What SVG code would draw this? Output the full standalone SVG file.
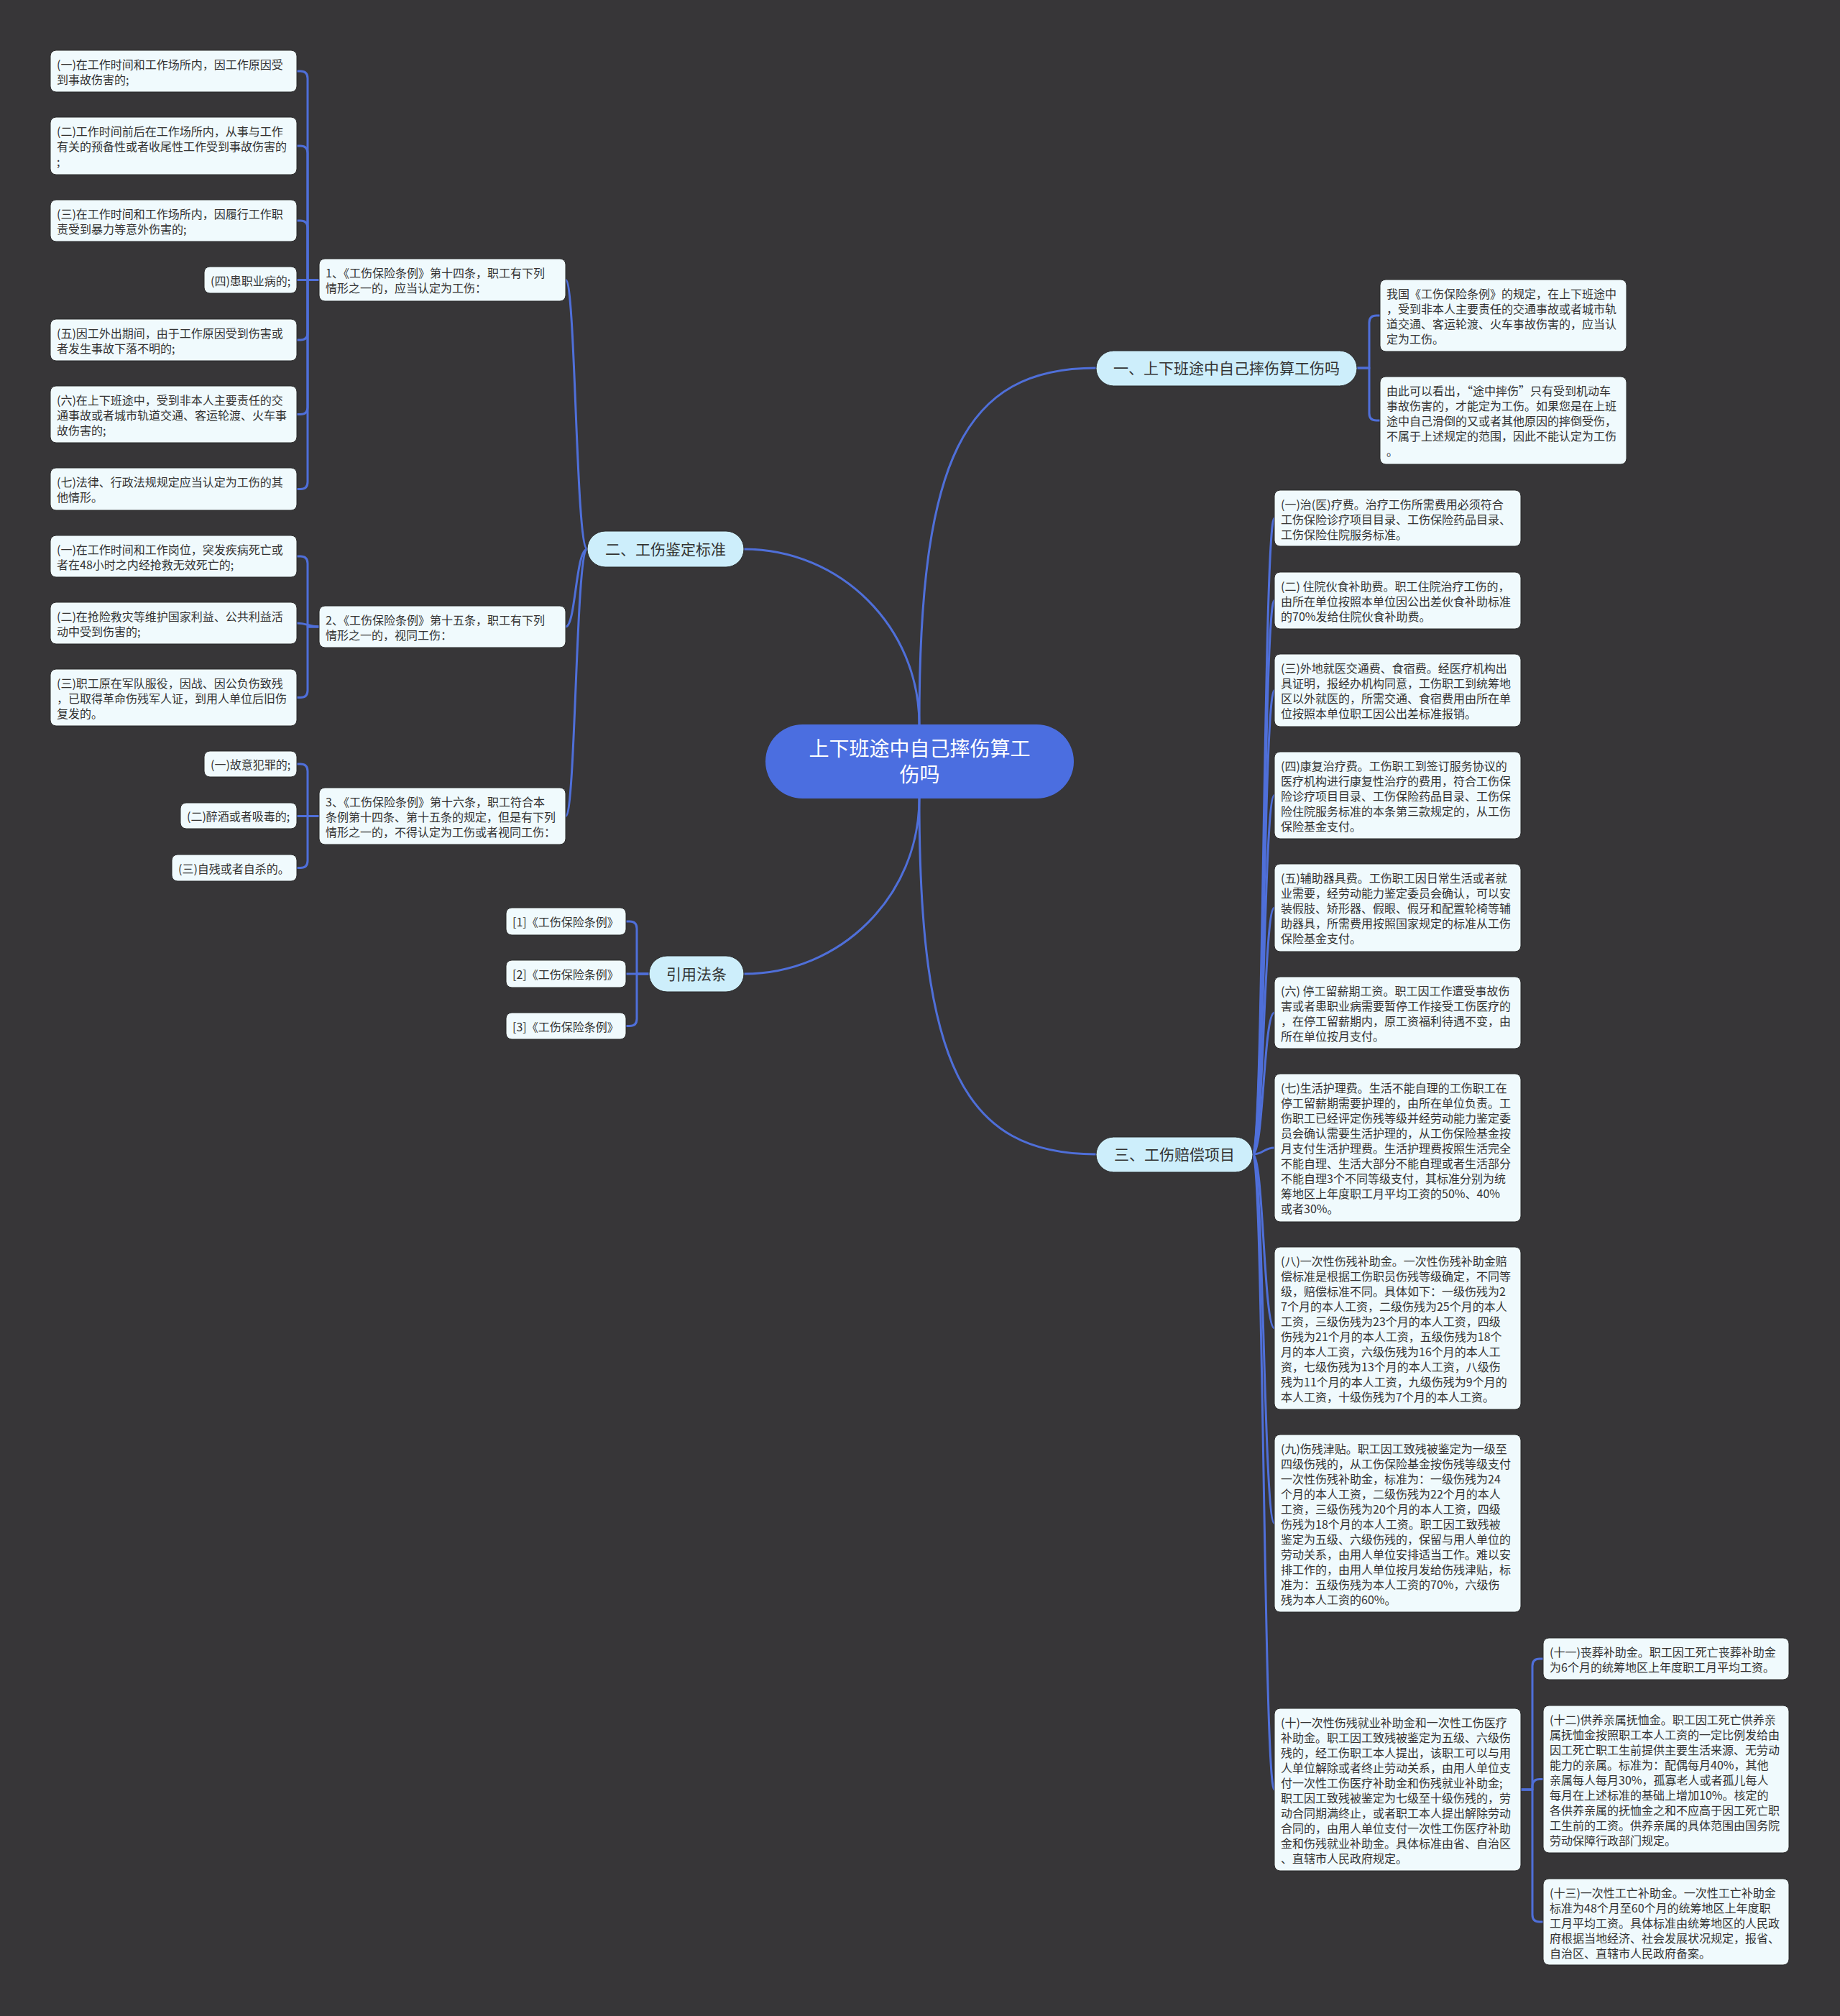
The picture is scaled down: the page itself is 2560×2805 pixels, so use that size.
<svg xmlns="http://www.w3.org/2000/svg" width="2560" height="2805" viewBox="0 0 2560 2805">
<style>
.bg{fill:#373638}
.leaf rect{fill:#f0fafd;stroke:#2a2a2b;stroke-width:1}
.leaf text{font-family:"Noto Sans CJK SC","Noto Sans",sans-serif;font-size:16px;fill:#333}
.branch rect{fill:#cdeefb;stroke:#2a2a2b;stroke-width:1}
.branch text{font-family:"Noto Sans CJK SC","Noto Sans",sans-serif;font-size:21px;fill:#333;text-anchor:middle}
.root rect{fill:#4b6ee0}
.root text{font-family:"Noto Sans CJK SC","Noto Sans",sans-serif;font-size:28px;fill:#fff;text-anchor:middle}
.conn path{fill:none;stroke:#4f6fd9;stroke-width:3;stroke-linecap:round;stroke-linejoin:round}
</style>
<rect class="bg" x="0" y="0" width="2560" height="2805"/>

<g id="connectors" class="conn">
<path d="M1279,1008 C1279,640 1340,512 1525,512"/>
<path d="M1279,1008 C1279,873 1170,764 1035,764"/>
<path d="M1279,1111 C1279,1246 1170,1355 1035,1355"/>
<path d="M1279,1111 C1279,1480 1340,1606 1525,1606"/>
<path d="M1888,512 H1905 V449 Q1905,439 1915,439 H1920"/>
<path d="M1888,512 H1905 V575 Q1905,585 1915,585 H1920"/>
<path d="M817,764 C801,764 801,389.5 787,389.5"/>
<path d="M817,764 C801,764 801,872 787,872"/>
<path d="M817,764 C801,764 801,1135.5 787,1135.5"/>
<path d="M444,389.5 H428 V109 Q428,99 418,99 H413"/>
<path d="M444,389.5 H428 V213 Q428,203 418,203 H413"/>
<path d="M444,389.5 H428 V317 Q428,307 418,307 H413"/>
<path d="M444,389.5 H413"/>
<path d="M444,389.5 H428 V463 Q428,473 418,473 H413"/>
<path d="M444,389.5 H428 V566.5 Q428,576.5 418,576.5 H413"/>
<path d="M444,389.5 H428 V670.5 Q428,680.5 418,680.5 H413"/>
<path d="M444,872 H428 V784 Q428,774 418,774 H413"/>
<path d="M444,872 C428,872 428,867 413,867"/>
<path d="M444,872 H428 V960.5 Q428,970.5 418,970.5 H413"/>
<path d="M444,1135.5 H428 V1073 Q428,1063 418,1063 H413"/>
<path d="M444,1135.5 H413"/>
<path d="M444,1135.5 H428 V1197.5 Q428,1207.5 418,1207.5 H413"/>
<path d="M903,1355 H886 V1292 Q886,1282 876,1282 H871"/>
<path d="M903,1355 H871"/>
<path d="M903,1355 H886 V1417.5 Q886,1427.5 876,1427.5 H871"/>
<path d="M1743,1606 C1758,1606 1758,721 1773,721"/>
<path d="M1743,1606 C1758,1606 1758,835.5 1773,835.5"/>
<path d="M1743,1606 C1758,1606 1758,960.5 1773,960.5"/>
<path d="M1743,1606 C1758,1606 1758,1106.5 1773,1106.5"/>
<path d="M1743,1606 C1758,1606 1758,1263 1773,1263"/>
<path d="M1743,1606 C1758,1606 1758,1409 1773,1409"/>
<path d="M1743,1606 C1758,1606 1758,1597 1773,1597"/>
<path d="M1743,1606 C1758,1606 1758,1848 1773,1848"/>
<path d="M1743,1606 C1758,1606 1758,2119.5 1773,2119.5"/>
<path d="M1743,1606 C1758,1606 1758,2490 1773,2490"/>
<path d="M2116,2490 H2132 V2318 Q2132,2308 2142,2308 H2147"/>
<path d="M2116,2490 H2132 V2485.5 Q2132,2475.5 2142,2475.5 H2147"/>
<path d="M2116,2490 H2132 V2664 Q2132,2674 2142,2674 H2147"/>
</g>

<g id="root" class="root">
<rect x="1065" y="1008" width="429" height="103" rx="51.5"/>
<text x="1279.5" y="1052">上下班途中自己摔伤算工</text>
<text x="1279.5" y="1088">伤吗</text>
</g>

<g id="branch1" class="branch">
<rect x="1525" y="488" width="363" height="49" rx="24.5"/>
<text x="1706.5" y="520">一、上下班途中自己摔伤算工伤吗</text>
</g>
<g id="branch2" class="branch">
<rect x="817" y="739" width="218" height="50" rx="25"/>
<text x="926" y="772">二、工伤鉴定标准</text>
</g>
<g id="branch3" class="branch">
<rect x="1525" y="1582" width="218" height="49" rx="24.5"/>
<text x="1634" y="1614">三、工伤赔偿项目</text>
</g>
<g id="branch4" class="branch">
<rect x="903" y="1330" width="132" height="50" rx="25"/>
<text x="969" y="1363">引用法条</text>
</g>

<g id="r1" class="leaf"><rect x="1920" y="389" width="343" height="100" rx="8"/>
<text x="1929" y="415"><tspan x="1929">我国《工伤保险条例》的规定，在上下班途中</tspan><tspan x="1929" dy="21">，受到非本人主要责任的交通事故或者城市轨</tspan><tspan x="1929" dy="21">道交通、客运轮渡、火车事故伤害的，应当认</tspan><tspan x="1929" dy="21">定为工伤。</tspan></text></g>
<g id="r2" class="leaf"><rect x="1920" y="524" width="343" height="122" rx="8"/>
<text x="1929" y="550"><tspan x="1929">由此可以看出，“途中摔伤”只有受到机动车</tspan><tspan x="1929" dy="21">事故伤害的，才能定为工伤。如果您是在上班</tspan><tspan x="1929" dy="21">途中自己滑倒的又或者其他原因的摔倒受伤，</tspan><tspan x="1929" dy="21">不属于上述规定的范围，因此不能认定为工伤</tspan><tspan x="1929" dy="21">。</tspan></text></g>

<g id="n1" class="leaf"><rect x="444" y="360" width="343" height="59" rx="8"/>
<text x="453" y="386"><tspan x="453">1、《工伤保险条例》第十四条，职工有下列</tspan><tspan x="453" dy="21">情形之一的，应当认定为工伤：</tspan></text></g>
<g id="n2" class="leaf"><rect x="444" y="843" width="343" height="58" rx="8"/>
<text x="453" y="869"><tspan x="453">2、《工伤保险条例》第十五条，职工有下列</tspan><tspan x="453" dy="21">情形之一的，视同工伤：</tspan></text></g>
<g id="n3" class="leaf"><rect x="444" y="1096" width="343" height="79" rx="8"/>
<text x="453" y="1122"><tspan x="453">3、《工伤保险条例》第十六条，职工符合本</tspan><tspan x="453" dy="21">条例第十四条、第十五条的规定，但是有下列</tspan><tspan x="453" dy="21">情形之一的，不得认定为工伤或者视同工伤：</tspan></text></g>

<g id="a1" class="leaf"><rect x="70" y="70" width="343" height="58" rx="8"/>
<text x="79" y="96"><tspan x="79">(一)在工作时间和工作场所内，因工作原因受</tspan><tspan x="79" dy="21">到事故伤害的;</tspan></text></g>
<g id="a2" class="leaf"><rect x="70" y="163" width="343" height="80" rx="8"/>
<text x="79" y="189"><tspan x="79">(二)工作时间前后在工作场所内，从事与工作</tspan><tspan x="79" dy="21">有关的预备性或者收尾性工作受到事故伤害的</tspan><tspan x="79" dy="21">;</tspan></text></g>
<g id="a3" class="leaf"><rect x="70" y="278" width="343" height="58" rx="8"/>
<text x="79" y="304"><tspan x="79">(三)在工作时间和工作场所内，因履行工作职</tspan><tspan x="79" dy="21">责受到暴力等意外伤害的;</tspan></text></g>
<g id="a4" class="leaf"><rect x="284" y="371" width="129" height="37" rx="8"/>
<text x="293" y="397">(四)患职业病的;</text></g>
<g id="a5" class="leaf"><rect x="70" y="444" width="343" height="58" rx="8"/>
<text x="79" y="470"><tspan x="79">(五)因工外出期间，由于工作原因受到伤害或</tspan><tspan x="79" dy="21">者发生事故下落不明的;</tspan></text></g>
<g id="a6" class="leaf"><rect x="70" y="537" width="343" height="79" rx="8"/>
<text x="79" y="563"><tspan x="79">(六)在上下班途中，受到非本人主要责任的交</tspan><tspan x="79" dy="21">通事故或者城市轨道交通、客运轮渡、火车事</tspan><tspan x="79" dy="21">故伤害的;</tspan></text></g>
<g id="a7" class="leaf"><rect x="70" y="651" width="343" height="59" rx="8"/>
<text x="79" y="677"><tspan x="79">(七)法律、行政法规规定应当认定为工伤的其</tspan><tspan x="79" dy="21">他情形。</tspan></text></g>

<g id="b1" class="leaf"><rect x="70" y="745" width="343" height="58" rx="8"/>
<text x="79" y="771"><tspan x="79">(一)在工作时间和工作岗位，突发疾病死亡或</tspan><tspan x="79" dy="21">者在48小时之内经抢救无效死亡的;</tspan></text></g>
<g id="b2" class="leaf"><rect x="70" y="838" width="343" height="58" rx="8"/>
<text x="79" y="864"><tspan x="79">(二)在抢险救灾等维护国家利益、公共利益活</tspan><tspan x="79" dy="21">动中受到伤害的;</tspan></text></g>
<g id="b3" class="leaf"><rect x="70" y="931" width="343" height="79" rx="8"/>
<text x="79" y="957"><tspan x="79">(三)职工原在军队服役，因战、因公负伤致残</tspan><tspan x="79" dy="21">，已取得革命伤残军人证，到用人单位后旧伤</tspan><tspan x="79" dy="21">复发的。</tspan></text></g>

<g id="c1" class="leaf"><rect x="284" y="1045" width="129" height="36" rx="8"/>
<text x="293" y="1070">(一)故意犯罪的;</text></g>
<g id="c2" class="leaf"><rect x="251" y="1117" width="162" height="36" rx="8"/>
<text x="260" y="1142">(二)醉酒或者吸毒的;</text></g>
<g id="c3" class="leaf"><rect x="239" y="1189" width="174" height="37" rx="8"/>
<text x="248" y="1215">(三)自残或者自杀的。</text></g>

<g id="k1" class="leaf"><rect x="704" y="1263" width="167" height="38" rx="8"/>
<text x="713" y="1289">[1]《工伤保险条例》</text></g>
<g id="k2" class="leaf"><rect x="704" y="1336" width="167" height="38" rx="8"/>
<text x="713" y="1362">[2]《工伤保险条例》</text></g>
<g id="k3" class="leaf"><rect x="704" y="1409" width="167" height="37" rx="8"/>
<text x="713" y="1435">[3]《工伤保险条例》</text></g>

<g id="s1" class="leaf"><rect x="1773" y="682" width="343" height="78" rx="8"/>
<text x="1782" y="708"><tspan x="1782">(一)治(医)疗费。治疗工伤所需费用必须符合</tspan><tspan x="1782" dy="21">工伤保险诊疗项目目录、工伤保险药品目录、</tspan><tspan x="1782" dy="21">工伤保险住院服务标准。</tspan></text></g>
<g id="s2" class="leaf"><rect x="1773" y="796" width="343" height="79" rx="8"/>
<text x="1782" y="822"><tspan x="1782">(二) 住院伙食补助费。职工住院治疗工伤的，</tspan><tspan x="1782" dy="21">由所在单位按照本单位因公出差伙食补助标准</tspan><tspan x="1782" dy="21">的70%发给住院伙食补助费。</tspan></text></g>
<g id="s3" class="leaf"><rect x="1773" y="910" width="343" height="101" rx="8"/>
<text x="1782" y="936"><tspan x="1782">(三)外地就医交通费、食宿费。经医疗机构出</tspan><tspan x="1782" dy="21">具证明，报经办机构同意，工伤职工到统筹地</tspan><tspan x="1782" dy="21">区以外就医的，所需交通、食宿费用由所在单</tspan><tspan x="1782" dy="21">位按照本单位职工因公出差标准报销。</tspan></text></g>
<g id="s4" class="leaf"><rect x="1773" y="1046" width="343" height="121" rx="8"/>
<text x="1782" y="1072"><tspan x="1782">(四)康复治疗费。工伤职工到签订服务协议的</tspan><tspan x="1782" dy="21">医疗机构进行康复性治疗的费用，符合工伤保</tspan><tspan x="1782" dy="21">险诊疗项目目录、工伤保险药品目录、工伤保</tspan><tspan x="1782" dy="21">险住院服务标准的本条第三款规定的，从工伤</tspan><tspan x="1782" dy="21">保险基金支付。</tspan></text></g>
<g id="s5" class="leaf"><rect x="1773" y="1202" width="343" height="122" rx="8"/>
<text x="1782" y="1228"><tspan x="1782">(五)辅助器具费。工伤职工因日常生活或者就</tspan><tspan x="1782" dy="21">业需要，经劳动能力鉴定委员会确认，可以安</tspan><tspan x="1782" dy="21">装假肢、矫形器、假眼、假牙和配置轮椅等辅</tspan><tspan x="1782" dy="21">助器具，所需费用按照国家规定的标准从工伤</tspan><tspan x="1782" dy="21">保险基金支付。</tspan></text></g>
<g id="s6" class="leaf"><rect x="1773" y="1359" width="343" height="100" rx="8"/>
<text x="1782" y="1385"><tspan x="1782">(六) 停工留薪期工资。职工因工作遭受事故伤</tspan><tspan x="1782" dy="21">害或者患职业病需要暂停工作接受工伤医疗的</tspan><tspan x="1782" dy="21">，在停工留薪期内，原工资福利待遇不变，由</tspan><tspan x="1782" dy="21">所在单位按月支付。</tspan></text></g>
<g id="s7" class="leaf"><rect x="1773" y="1494" width="343" height="206" rx="8"/>
<text x="1782" y="1520"><tspan x="1782">(七)生活护理费。生活不能自理的工伤职工在</tspan><tspan x="1782" dy="21">停工留薪期需要护理的，由所在单位负责。工</tspan><tspan x="1782" dy="21">伤职工已经评定伤残等级并经劳动能力鉴定委</tspan><tspan x="1782" dy="21">员会确认需要生活护理的，从工伤保险基金按</tspan><tspan x="1782" dy="21">月支付生活护理费。生活护理费按照生活完全</tspan><tspan x="1782" dy="21">不能自理、生活大部分不能自理或者生活部分</tspan><tspan x="1782" dy="21">不能自理3个不同等级支付，其标准分别为统</tspan><tspan x="1782" dy="21">筹地区上年度职工月平均工资的50%、40%</tspan><tspan x="1782" dy="21">或者30%。</tspan></text></g>
<g id="s8" class="leaf"><rect x="1773" y="1735" width="343" height="226" rx="8"/>
<text x="1782" y="1761"><tspan x="1782">(八)一次性伤残补助金。一次性伤残补助金赔</tspan><tspan x="1782" dy="21">偿标准是根据工伤职员伤残等级确定，不同等</tspan><tspan x="1782" dy="21">级，赔偿标准不同。具体如下：一级伤残为2</tspan><tspan x="1782" dy="21">7个月的本人工资，二级伤残为25个月的本人</tspan><tspan x="1782" dy="21">工资，三级伤残为23个月的本人工资，四级</tspan><tspan x="1782" dy="21">伤残为21个月的本人工资，五级伤残为18个</tspan><tspan x="1782" dy="21">月的本人工资，六级伤残为16个月的本人工</tspan><tspan x="1782" dy="21">资，七级伤残为13个月的本人工资，八级伤</tspan><tspan x="1782" dy="21">残为11个月的本人工资，九级伤残为9个月的</tspan><tspan x="1782" dy="21">本人工资，十级伤残为7个月的本人工资。</tspan></text></g>
<g id="s9" class="leaf"><rect x="1773" y="1996" width="343" height="247" rx="8"/>
<text x="1782" y="2022"><tspan x="1782">(九)伤残津贴。职工因工致残被鉴定为一级至</tspan><tspan x="1782" dy="21">四级伤残的，从工伤保险基金按伤残等级支付</tspan><tspan x="1782" dy="21">一次性伤残补助金，标准为：一级伤残为24</tspan><tspan x="1782" dy="21">个月的本人工资，二级伤残为22个月的本人</tspan><tspan x="1782" dy="21">工资，三级伤残为20个月的本人工资，四级</tspan><tspan x="1782" dy="21">伤残为18个月的本人工资。职工因工致残被</tspan><tspan x="1782" dy="21">鉴定为五级、六级伤残的，保留与用人单位的</tspan><tspan x="1782" dy="21">劳动关系，由用人单位安排适当工作。难以安</tspan><tspan x="1782" dy="21">排工作的，由用人单位按月发给伤残津贴，标</tspan><tspan x="1782" dy="21">准为：五级伤残为本人工资的70%，六级伤</tspan><tspan x="1782" dy="21">残为本人工资的60%。</tspan></text></g>
<g id="s10" class="leaf"><rect x="1773" y="2377" width="343" height="226" rx="8"/>
<text x="1782" y="2403"><tspan x="1782">(十)一次性伤残就业补助金和一次性工伤医疗</tspan><tspan x="1782" dy="21">补助金。职工因工致残被鉴定为五级、六级伤</tspan><tspan x="1782" dy="21">残的，经工伤职工本人提出，该职工可以与用</tspan><tspan x="1782" dy="21">人单位解除或者终止劳动关系，由用人单位支</tspan><tspan x="1782" dy="21">付一次性工伤医疗补助金和伤残就业补助金;</tspan><tspan x="1782" dy="21">职工因工致残被鉴定为七级至十级伤残的，劳</tspan><tspan x="1782" dy="21">动合同期满终止，或者职工本人提出解除劳动</tspan><tspan x="1782" dy="21">合同的，由用人单位支付一次性工伤医疗补助</tspan><tspan x="1782" dy="21">金和伤残就业补助金。具体标准由省、自治区</tspan><tspan x="1782" dy="21">、直辖市人民政府规定。</tspan></text></g>

<g id="t1" class="leaf"><rect x="2147" y="2279" width="342" height="58" rx="8"/>
<text x="2156" y="2305"><tspan x="2156">(十一)丧葬补助金。职工因工死亡丧葬补助金</tspan><tspan x="2156" dy="21">为6个月的统筹地区上年度职工月平均工资。</tspan></text></g>
<g id="t2" class="leaf"><rect x="2147" y="2373" width="342" height="205" rx="8"/>
<text x="2156" y="2399"><tspan x="2156">(十二)供养亲属抚恤金。职工因工死亡供养亲</tspan><tspan x="2156" dy="21">属抚恤金按照职工本人工资的一定比例发给由</tspan><tspan x="2156" dy="21">因工死亡职工生前提供主要生活来源、无劳动</tspan><tspan x="2156" dy="21">能力的亲属。标准为：配偶每月40%，其他</tspan><tspan x="2156" dy="21">亲属每人每月30%，孤寡老人或者孤儿每人</tspan><tspan x="2156" dy="21">每月在上述标准的基础上增加10%。核定的</tspan><tspan x="2156" dy="21">各供养亲属的抚恤金之和不应高于因工死亡职</tspan><tspan x="2156" dy="21">工生前的工资。供养亲属的具体范围由国务院</tspan><tspan x="2156" dy="21">劳动保障行政部门规定。</tspan></text></g>
<g id="t3" class="leaf"><rect x="2147" y="2614" width="342" height="120" rx="8"/>
<text x="2156" y="2640"><tspan x="2156">(十三)一次性工亡补助金。一次性工亡补助金</tspan><tspan x="2156" dy="21">标准为48个月至60个月的统筹地区上年度职</tspan><tspan x="2156" dy="21">工月平均工资。具体标准由统筹地区的人民政</tspan><tspan x="2156" dy="21">府根据当地经济、社会发展状况规定，报省、</tspan><tspan x="2156" dy="21">自治区、直辖市人民政府备案。</tspan></text></g>
</svg>
